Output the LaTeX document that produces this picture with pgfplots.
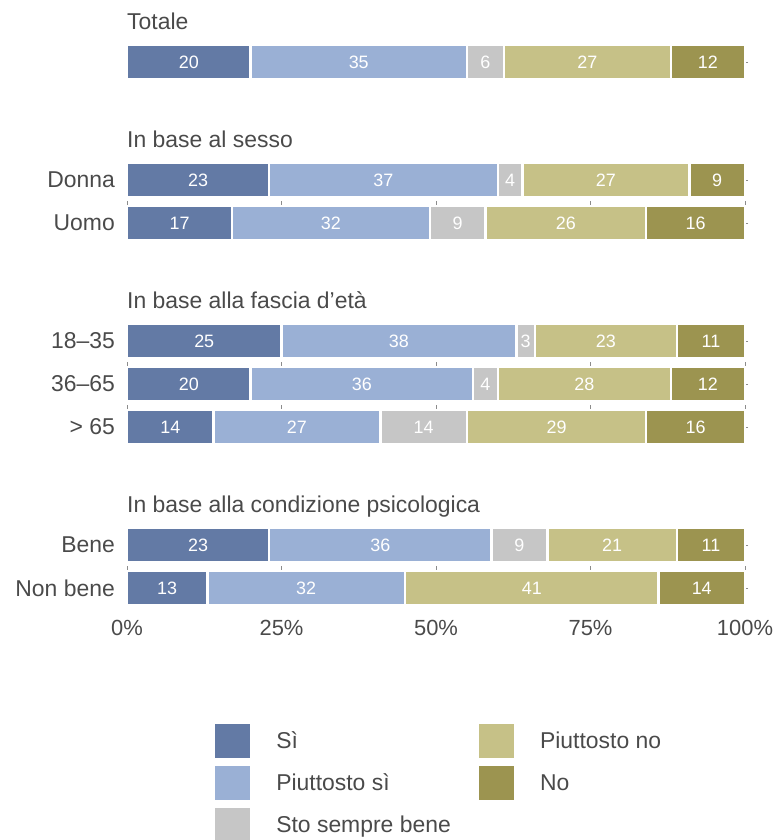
\documentclass[border=0pt]{standalone}
\usepackage{fontspec}
\setmainfont{Liberation Sans}
\usepackage{pgfplots}
\usepackage{pgfplotstable}
\pgfplotsset{compat=1.18}
\definecolor{cSi}{HTML}{637AA5}
\definecolor{cPsi}{HTML}{9AB0D5}
\definecolor{cSs}{HTML}{C6C6C6}
\definecolor{cPno}{HTML}{C6C187}
\definecolor{cNo}{HTML}{9C9450}
\definecolor{txt}{HTML}{4A4A4A}
\newcommand{\lab}{\fontsize{23}{25}\selectfont}
\newcommand{\tlab}{\fontsize{22}{24}\selectfont}
\newcommand{\num}{\fontsize{18}{20}\selectfont}

\pgfplotstableread{
y si psi ss pno no
-62 20 35 6 27 12
-180 23 37 4 27 9
-223 17 32 9 26 16
-341 25 38 3 23 11
-384 20 36 4 28 12
-427 14 27 14 29 16
-545 23 36 9 21 11
-588 13 32 0 41 14
}\datatable

\begin{document}
\begin{tikzpicture}
\path[use as bounding box] (0,0) rectangle (779bp,-840bp);
\begin{axis}[
  at={(127bp,-610bp)}, anchor=south west,
  x=6.18bp, y=1bp,
  xmin=0, xmax=100, ymin=-610, ymax=-40,
  xbar stacked, bar width=34bp,
  clip=false,
  /pgf/number format/assume math mode=true,
  axis line style={draw=none},
  xtick={0,25,50,75,100},
  xticklabels={0\%,25\%,50\%,75\%,100\%},
  xtick style={draw=none},
  xticklabel style={font=\tlab, text=txt, inner sep=0pt, anchor=north, yshift=-7bp},
  ytick={-62,-180,-223,-341,-384,-427,-545,-588},
  yticklabels={,Donna,Uomo,18–35,36–65,> 65,Bene,Non bene},
  ytick pos=right, yticklabel pos=left,
  tick align=outside, major tick length=3bp,
  ytick style={draw=black!45, line width=0.6bp},
  yticklabel style={font=\lab, text=txt, inner sep=0pt, anchor=east, xshift=-9bp},
  nodes near coords={\ifdim\rawx pt>0pt\pgfmathprintnumber{\rawx}\fi},
  visualization depends on={rawx \as \rawx},
  every node near coord/.append style={anchor=center, text=white, font=\num},
  legend image code/.code={\path[#1,draw=none] (0bp,-17bp) rectangle (35bp,17bp); \path (60bp,0bp);},
  legend columns=3, transpose legend,
  legend cell align=left,
  legend style={at={(axis cs:14.24,-724)}, anchor=north west, draw=none, inner sep=0pt, outer sep=0pt,
    font=\lab, text=txt, nodes={inner sep=0pt},
    row sep=8bp, /tikz/every even column/.append style={column sep=28bp}},
]
\addplot[fill=cSi, draw=white, line width=2.6bp] table[x=si,y=y]{\datatable};
\addlegendentry{Sì}
\addplot[fill=cPsi, draw=white, line width=2.6bp] table[x=psi,y=y]{\datatable};
\addlegendentry{Piuttosto sì}
\addplot[fill=cSs, draw=white, line width=2.6bp] table[x=ss,y=y]{\datatable};
\addlegendentry{Sto sempre bene}
\addplot[fill=cPno, draw=white, line width=2.6bp] table[x=pno,y=y]{\datatable};
\addlegendentry{Piuttosto no}
\addplot[fill=cNo, draw=white, line width=2.6bp] table[x=no,y=y]{\datatable};
\addlegendentry{No}
\pgfplotsinvokeforeach{0,25,50,75,100}{
  \draw[black!45, line width=0.6bp] (axis cs:#1,-201) -- (axis cs:#1,-205);
  \draw[black!45, line width=0.6bp] (axis cs:#1,-362) -- (axis cs:#1,-366);
  \draw[black!45, line width=0.6bp] (axis cs:#1,-405) -- (axis cs:#1,-409);
  \draw[black!45, line width=0.6bp] (axis cs:#1,-566) -- (axis cs:#1,-570);
}
\node[anchor=base west, inner sep=0pt, font=\lab, text=txt] at (axis cs:0,-29) {Totale};
\node[anchor=base west, inner sep=0pt, font=\lab, text=txt] at (axis cs:0,-147) {In base al sesso};
\node[anchor=base west, inner sep=0pt, font=\lab, text=txt] at (axis cs:0,-308) {In base alla fascia d’età};
\node[anchor=base west, inner sep=0pt, font=\lab, text=txt] at (axis cs:0,-512) {In base alla condizione psicologica};
\end{axis}
\end{tikzpicture}
\end{document}
